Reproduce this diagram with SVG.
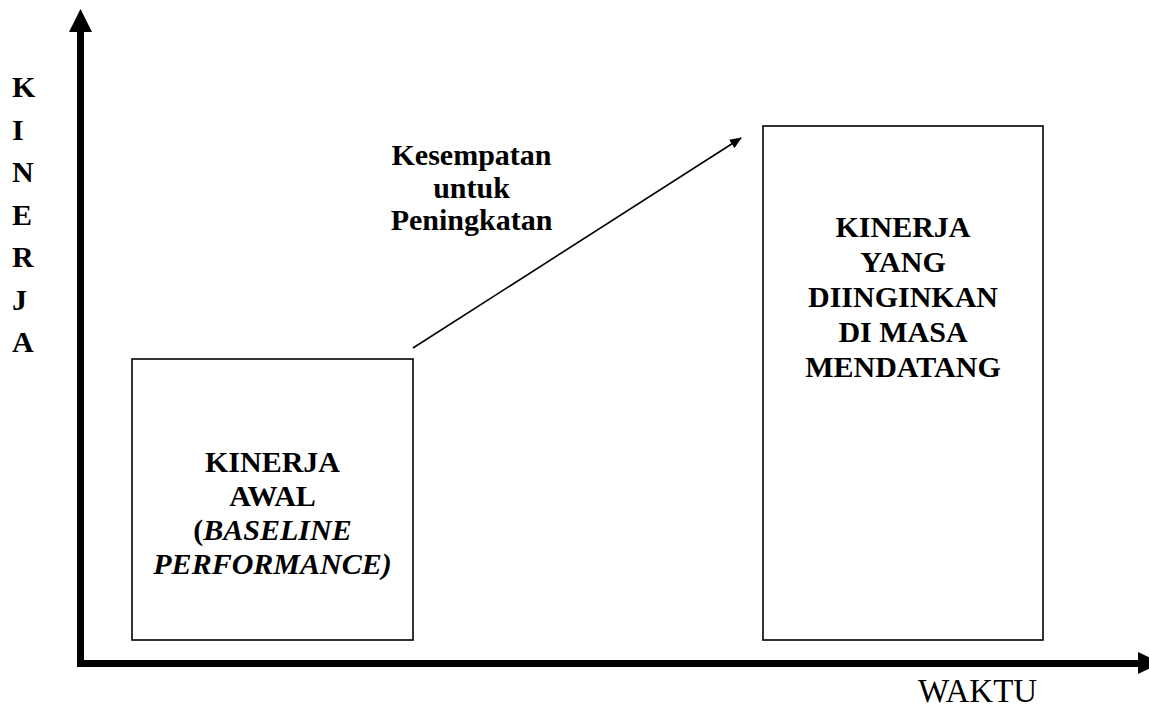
<svg xmlns="http://www.w3.org/2000/svg" width="1149" height="708" viewBox="0 0 1149 708">
<style>
.t{font-family:"Liberation Serif","Times New Roman",serif;font-weight:bold;font-size:30px;fill:#000;text-anchor:middle}
.box{fill:#fff;stroke:#000;stroke-width:1.6}
.axis{stroke:#000;stroke-width:7;fill:none}
</style>
<defs>
<marker id="ah" markerWidth="12" markerHeight="10" refX="11" refY="5" orient="auto" markerUnits="userSpaceOnUse">
<path d="M0,0 L12,5 L0,10 Z" fill="#000"/>
</marker>
</defs>
<rect width="1149" height="708" fill="#fff"/>
<g id="axes">
<line class="axis" x1="80.5" y1="30" x2="80.5" y2="666"/>
<polygon points="80.5,9 69,32 92,32" fill="#000"/>
<line class="axis" x1="77" y1="663.5" x2="1140" y2="663.5"/>
<polygon points="1161,663 1138,652 1138,674" fill="#000"/>
</g>
<g id="y-label">
<text class="t" style="text-anchor:start" x="12" y="97">K</text>
<text class="t" style="text-anchor:start" x="12" y="139.5">I</text>
<text class="t" style="text-anchor:start" x="12" y="182">N</text>
<text class="t" style="text-anchor:start" x="12" y="224.5">E</text>
<text class="t" style="text-anchor:start" x="12" y="267">R</text>
<text class="t" style="text-anchor:start" x="12" y="309.5">J</text>
<text class="t" style="text-anchor:start" x="12" y="352">A</text>
</g>
<g id="x-label">
<text x="918" y="702" style="font-family:'Liberation Serif','Times New Roman',serif;font-size:33px;fill:#000">WAKTU</text>
</g>
<g id="baseline">
<rect class="box" x="132" y="359" width="281" height="281"/>
<text class="t" x="272.5" y="472">KINERJA</text>
<text class="t" x="272.5" y="506">AWAL</text>
<text class="t" x="272.5" y="540">(<tspan font-style="italic">BASELINE</tspan></text>
<text class="t" x="272.5" y="574" font-style="italic">PERFORMANCE)</text>
</g>
<g id="future">
<rect class="box" x="763" y="126" width="280" height="514"/>
<text class="t" x="903" y="237">KINERJA</text>
<text class="t" x="903" y="272">YANG</text>
<text class="t" x="903" y="307">DIINGINKAN</text>
<text class="t" x="903" y="342">DI MASA</text>
<text class="t" x="903" y="377">MENDATANG</text>
</g>
<g id="connectors">
<line x1="413" y1="348" x2="741" y2="138" stroke="#000" stroke-width="1.6" marker-end="url(#ah)"/>
</g>
<g id="opportunity-label">
<text class="t" x="471.5" y="165">Kesempatan</text>
<text class="t" x="471.5" y="198">untuk</text>
<text class="t" x="471.5" y="230">Peningkatan</text>
</g>
</svg>
